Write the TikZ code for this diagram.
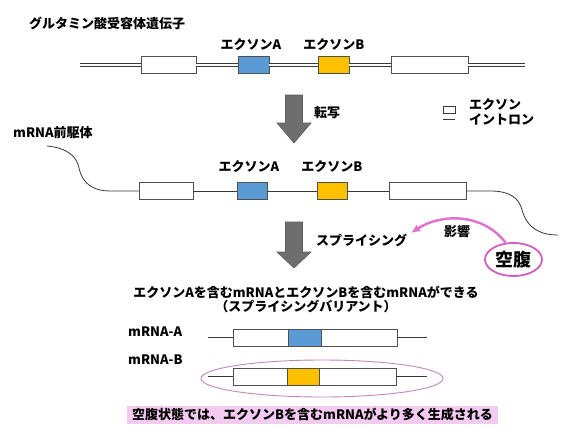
\documentclass[tikz,border=0pt]{standalone}
\usepackage{fontspec}
\setmainfont{Noto Sans CJK JP}
\usetikzlibrary{arrows.meta,shapes.geometric}
\definecolor{exblue}{HTML}{5B9BD5}
\definecolor{exyellow}{HTML}{FFC000}
\definecolor{boxline}{HTML}{505050}
\definecolor{linedark}{HTML}{3A3A3A}
\definecolor{arrowgray}{HTML}{6E6E6E}
\definecolor{pinkarrow}{HTML}{E070D0}
\definecolor{pinkring}{HTML}{D060C0}
\definecolor{ellring}{HTML}{C486BC}
\definecolor{pinkfill}{HTML}{F4CBF0}
\tikzset{
  exon/.style={draw=boxline, line width=0.8pt, fill=white, inner sep=0pt, outer sep=0pt, minimum height=17pt},
  dna/.style={draw=linedark, line width=0.9pt, double=white, double distance=2.6pt},
  rna/.style={draw=linedark, line width=0.8pt},
  lbl/.style={font=\bfseries\fontsize{13}{15}\selectfont, inner sep=0pt, text=black},
  bigarrow/.style={fill=arrowgray, draw=arrowgray!85!black, line width=0.6pt},
}
\begin{document}
\begin{tikzpicture}[x=1pt,y=-1pt]
\useasboundingbox (0,0) rectangle (570,437);
\fill[white] (0,0) rectangle (570,437);

% ---------- gene ----------
\node[lbl, anchor=west] (title) at (29,23) {グルタミン酸受容体遺伝子};
\node[lbl] (gAlbl) at (251,45) {エクソンA};
\node[lbl] (gBlbl) at (334,45) {エクソンB};
\coordinate (gL) at (80,65);
\coordinate (gR) at (525,65);
\node[exon, minimum width=55pt] (g1) at (168.5,65) {};
\node[exon, minimum width=31pt, fill=exblue] (gA) at (253.5,65) {};
\node[exon, minimum width=31pt, fill=exyellow] (gB) at (333.5,65) {};
\node[exon, minimum width=77pt] (g2) at (429.5,65) {};
\draw[dna] (gL) -- (g1.west);
\draw[dna] (g1.east) -- (gA.west);
\draw[dna] (gA.east) -- (gB.west);
\draw[dna] (gB.east) -- (g2.west);
\draw[dna] (g2.east) -- (gR);

% ---------- arrow 1 ----------
\draw[bigarrow] (285.5,95) -- (302.5,95) -- (302.5,123) -- (311,123) -- (294,143) -- (277,123) -- (285.5,123) -- cycle;
\node[lbl, anchor=west] (tensha) at (314,113) {転写};

% ---------- legend ----------
\node[draw=linedark, line width=0.8pt, fill=white, minimum width=12pt, minimum height=7pt, inner sep=0pt] (legbox) at (449,109.5) {};
\coordinate (legL) at (443,119);
\coordinate (legR) at (455,119);
\draw[rna, line width=1pt] (legL) -- (legR);
\node[lbl, anchor=west] (legex) at (469,105) {エクソン};
\node[lbl, anchor=west] (legin) at (469,119) {イントロン};

% ---------- pre-mRNA ----------
\node[lbl, anchor=west] (pre) at (13,133) {mRNA前駆体};
\node[lbl] (mAlbl) at (249,167) {エクソンA};
\node[lbl] (mBlbl) at (332,167) {エクソンB};
\node[exon, minimum width=54pt] (m1) at (166,191) {};
\node[exon, minimum width=30pt, fill=exblue] (mA) at (252,191) {};
\node[exon, minimum width=30pt, fill=exyellow] (mB) at (332,191) {};
\node[exon, minimum width=77pt] (m2) at (427.5,191) {};
\coordinate (mL) at (47,146);
\coordinate (mLc) at (110,191);
\coordinate (mRc) at (490,191);
\coordinate (mR) at (558,235);
\draw[rna] (mL) .. controls (68,148) and (77,157) .. (79,168) .. controls (83,186) and (96,191) .. (mLc) -- (m1.west);
\draw[rna] (m1.east) -- (mA.west);
\draw[rna] (mA.east) -- (mB.west);
\draw[rna] (mB.east) -- (m2.west);
\draw[rna] (m2.east) -- (mRc) .. controls (510,191) and (519,198) .. (522,210) .. controls (527,228) and (540,235) .. (mR);

% ---------- arrow 2 ----------
\draw[bigarrow] (285.5,222) -- (302.5,222) -- (302.5,252) -- (311,252) -- (294,268) -- (277,252) -- (285.5,252) -- cycle;
\node[lbl, anchor=west] (splice) at (316,240) {スプライシング};

% ---------- fasting ----------
\node[draw=pinkring, line width=1.8pt, ellipse, minimum width=57pt, minimum height=33pt, inner sep=0pt, font=\bfseries\fontsize{18}{20}\selectfont] (fast) at (513.5,259.5) {空腹};
\coordinate (effTip) at (411,233);
\draw[pinkarrow, line width=2.4pt, -{Latex[length=9pt,width=8pt]}] (fast.115) .. controls (482,212) and (440,214) .. (effTip);
\node[lbl] (eikyo) at (457,232) {影響};

% ---------- result ----------
\node[lbl] (res1) at (306,292) {エクソンAを含むmRNAとエクソンBを含むmRNAができる};
\node[lbl] (res2) at (306,306) {（スプライシングバリアント）};

\node[lbl, anchor=west] (rAlbl) at (128,332) {mRNA-A};
\coordinate (rAL) at (208,337.5);
\coordinate (rAR) at (427,337.5);
\node[exon, minimum width=55pt] (rA1) at (260.5,337.5) {};
\node[exon, minimum width=33pt, fill=exblue] (rAA) at (304.5,337.5) {};
\node[exon, minimum width=76pt] (rA2) at (359,337.5) {};
\draw[rna] (rAL) -- (rA1.west);
\draw[rna] (rA2.east) -- (rAR);

\node[lbl, anchor=west] (rBlbl) at (128,360) {mRNA-B};
\node[draw=ellring, line width=0.9pt, ellipse, minimum width=242pt, minimum height=37pt, inner sep=0pt] (ring) at (322,378.5) {};
\coordinate (rBL) at (208,376.5);
\coordinate (rBR) at (427,376.5);
\node[exon, minimum width=54pt] (rB1) at (260,376.5) {};
\node[exon, minimum width=32pt, fill=exyellow] (rBB) at (303,376.5) {};
\node[exon, minimum width=77pt] (rB2) at (357.5,376.5) {};
\draw[rna] (rBL) -- (rB1.west);
\draw[rna] (rB2.east) -- (rBR);

\node[fill=pinkfill, minimum width=371pt, minimum height=18pt, inner sep=0pt] (concl) at (312.5,415) {};
\node[lbl] (concltxt) at (concl.center) {空腹状態では、エクソンBを含むmRNAがより多く生成される};
\end{tikzpicture}
\end{document}
